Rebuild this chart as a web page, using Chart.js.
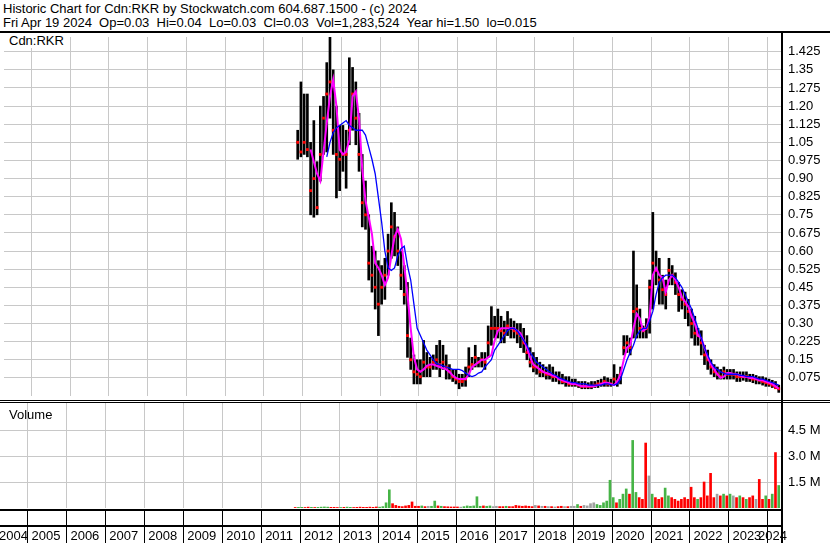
<!DOCTYPE html>
<html>
<head>
<meta charset="utf-8">
<script src="https://cdn.jsdelivr.net/npm/chart.js@4.4.1/dist/chart.umd.min.js"></script>
<style>
  body { margin: 0; background: #fff; width: 830px; height: 543px; overflow: hidden; position: relative;
         font-family: "Liberation Sans", Arial, sans-serif; }
  .txt { position: absolute; font-size: 13px; line-height: 13px; white-space: pre; color: #000; }
  .rule { position: absolute; background: #000; }
  canvas { position: absolute; left: 0; }
</style>
</head>
<body>
<div class="txt" style="left:3px;top:2px">Historic Chart for Cdn:RKR by Stockwatch.com 604.687.1500 - (c) 2024</div>
<div class="txt" style="left:3px;top:16px">Fri Apr 19 2024  Op=0.03  Hi=0.04  Lo=0.03  Cl=0.03  Vol=1,283,524  Year hi=1.50  lo=0.015</div>

<canvas id="price" width="830" height="367" style="top:33px"></canvas>
<canvas id="volume" width="830" height="140" style="top:403px"></canvas>

<div class="txt" style="left:0;top:33px;width:58px;height:15px;background:#fff;padding-left:9px;line-height:15px">Cdn:RKR</div>
<div class="txt" style="left:9px;top:408px">Volume</div>

<div class="rule" style="left:0;top:31px;width:830px;height:2px"></div>
<div class="rule" style="left:0;top:400px;width:830px;height:1px"></div>
<div class="rule" style="left:0;top:402px;width:830px;height:1px"></div>
<div class="rule" style="left:781px;top:31px;width:2px;height:512px"></div>

<script>
// monthly bars, first one is Nov 2011, last one Apr 2024
const firstMonth = { year: 2011, month: 11 };

const high = [
  1.10, 1.30,
  1.25, 1.25, 1.05, 1.14, 0.97, 1.20, 1.24, 1.38, 1.49, 1.35, 1.20, 1.12,
  1.12, 1.10, 1.40, 1.36, 1.30, 1.17, 1.00, 0.89, 0.75, 0.62, 0.60, 0.56,
  0.54, 0.57, 0.67, 0.80, 0.76, 0.70, 0.60, 0.54, 0.47, 0.24, 0.17, 0.15,
  0.15, 0.23, 0.18, 0.16, 0.17, 0.21, 0.23, 0.21, 0.17, 0.13, 0.11, 0.11,
  0.09, 0.09, 0.12, 0.20, 0.16, 0.21, 0.16, 0.18, 0.18, 0.29, 0.37, 0.33,
  0.36, 0.33, 0.31, 0.35, 0.32, 0.31, 0.30, 0.30, 0.28, 0.25, 0.20, 0.18,
  0.16, 0.14, 0.13, 0.12, 0.13, 0.12, 0.10, 0.10, 0.09, 0.08, 0.08, 0.07,
  0.07, 0.06, 0.06, 0.06, 0.055, 0.06, 0.06, 0.065, 0.07, 0.08, 0.075, 0.07,
  0.13, 0.09, 0.12, 0.25, 0.25, 0.24, 0.60, 0.46, 0.36, 0.29, 0.32, 0.48,
  0.76, 0.60, 0.57, 0.50, 0.48, 0.57, 0.54, 0.51, 0.47, 0.44, 0.43, 0.40,
  0.36, 0.33, 0.28, 0.27, 0.21, 0.19, 0.15, 0.13, 0.12, 0.11, 0.12, 0.11,
  0.11, 0.11, 0.10, 0.10, 0.10, 0.10, 0.09, 0.09, 0.085, 0.08, 0.08, 0.075,
  0.07, 0.065, 0.06, 0.045
];
const low = [
  0.98, 0.99,
  1.00, 0.99, 0.75, 0.74, 0.75, 0.89, 1.00, 1.01, 1.15, 1.00, 0.82, 0.85,
  0.93, 0.86, 1.04, 1.10, 1.04, 0.93, 0.70, 0.69, 0.48, 0.43, 0.36, 0.25,
  0.38, 0.40, 0.50, 0.57, 0.58, 0.54, 0.44, 0.38, 0.16, 0.11, 0.05, 0.05,
  0.05, 0.08, 0.08, 0.08, 0.11, 0.11, 0.08, 0.11, 0.07, 0.07, 0.06, 0.05,
  0.03, 0.04, 0.04, 0.08, 0.11, 0.12, 0.12, 0.12, 0.11, 0.16, 0.21, 0.24,
  0.24, 0.22, 0.22, 0.25, 0.24, 0.24, 0.22, 0.20, 0.18, 0.15, 0.12, 0.10,
  0.09, 0.08, 0.08, 0.07, 0.07, 0.06, 0.06, 0.05, 0.05, 0.04, 0.04, 0.04,
  0.04, 0.035, 0.03, 0.03, 0.03, 0.03, 0.035, 0.035, 0.04, 0.04, 0.04, 0.04,
  0.05, 0.04, 0.05, 0.17, 0.18, 0.17, 0.24, 0.24, 0.24, 0.24, 0.24, 0.26,
  0.36, 0.46, 0.38, 0.38, 0.36, 0.46, 0.46, 0.42, 0.35, 0.36, 0.32, 0.29,
  0.24, 0.21, 0.21, 0.17, 0.13, 0.11, 0.09, 0.08, 0.07, 0.07, 0.07, 0.07,
  0.07, 0.07, 0.06, 0.06, 0.065, 0.06, 0.06, 0.055, 0.05, 0.05, 0.045, 0.04,
  0.04, 0.035, 0.03, 0.015
];
const close = [
  1.05, 1.01,
  1.05, 1.02, 0.85, 0.90, 0.78, 1.00, 1.15, 1.25, 1.30, 1.10, 1.00, 0.98,
  1.00, 1.00, 1.10, 1.25, 1.15, 1.00, 0.80, 0.75, 0.55, 0.50, 0.45, 0.38,
  0.45, 0.50, 0.60, 0.70, 0.66, 0.60, 0.50, 0.42, 0.25, 0.15, 0.10, 0.09,
  0.08, 0.14, 0.12, 0.12, 0.14, 0.15, 0.13, 0.14, 0.12, 0.10, 0.08, 0.07,
  0.06, 0.06, 0.07, 0.12, 0.13, 0.16, 0.14, 0.15, 0.14, 0.22, 0.28, 0.28,
  0.28, 0.27, 0.26, 0.29, 0.28, 0.27, 0.26, 0.25, 0.22, 0.18, 0.14, 0.12,
  0.12, 0.10, 0.10, 0.09, 0.09, 0.08, 0.08, 0.07, 0.06, 0.06, 0.05, 0.05,
  0.05, 0.045, 0.04, 0.04, 0.04, 0.04, 0.045, 0.05, 0.05, 0.06, 0.05, 0.05,
  0.07, 0.06, 0.09, 0.20, 0.22, 0.20, 0.35, 0.36, 0.28, 0.27, 0.28, 0.45,
  0.55, 0.52, 0.48, 0.44, 0.42, 0.52, 0.50, 0.47, 0.42, 0.40, 0.38, 0.35,
  0.30, 0.26, 0.25, 0.22, 0.17, 0.15, 0.12, 0.10, 0.09, 0.08, 0.10, 0.09,
  0.09, 0.09, 0.08, 0.08, 0.08, 0.08, 0.075, 0.07, 0.07, 0.065, 0.06, 0.055,
  0.05, 0.045, 0.035, 0.03
];
// short moving average (magenta)
const maShort = [
  null, null,
  null, null, 1.02, 0.97, 0.92, 0.89, 1.01, 1.13, 1.24, 1.31, 1.20, 1.02,
  1.00, 1.01, 1.06, 1.24, 1.26, 1.15, 0.94, 0.81, 0.74, 0.67, 0.55, 0.53,
  0.50, 0.46, 0.49, 0.58, 0.66, 0.69, 0.65, 0.54, 0.42, 0.28, 0.16, 0.11,
  0.10, 0.11, 0.125, 0.13, 0.13, 0.125, 0.12, 0.115, 0.11, 0.10, 0.085, 0.075,
  0.07, 0.07, 0.07, 0.09, 0.12, 0.13, 0.14, 0.15, 0.15, 0.16, 0.17, 0.23,
  0.27, 0.28, 0.28, 0.28, 0.28, 0.28, 0.27, 0.26, 0.23, 0.20, 0.16, 0.13,
  0.12, 0.11, 0.10, 0.095, 0.09, 0.085, 0.08, 0.07, 0.065, 0.06, 0.055, 0.05,
  0.05, 0.045, 0.04, 0.04, 0.04, 0.04, 0.04, 0.045, 0.05, 0.055, 0.055, 0.05,
  0.045, 0.06, 0.09, 0.15, 0.20, 0.21, 0.28, 0.34, 0.32, 0.27, 0.28, 0.33,
  0.50, 0.53, 0.50, 0.49, 0.43, 0.48, 0.50, 0.48, 0.45, 0.41, 0.39, 0.37,
  0.33, 0.30, 0.25, 0.24, 0.20, 0.16, 0.13, 0.11, 0.09, 0.075, 0.08, 0.095,
  0.095, 0.09, 0.09, 0.085, 0.08, 0.08, 0.075, 0.075, 0.07, 0.065, 0.065, 0.06,
  0.055, 0.05, 0.04, 0.03
];
// long moving average (blue)
const maLong = [
  null, null,
  null, null, null, null, null, null, null, 0.99, 1.05, 1.09, 1.11, 1.12,
  1.13, 1.14, 1.12, 1.11, 1.10, 1.10, 1.10, 1.08, 1.03, 0.98, 0.92, 0.82,
  0.72, 0.60, 0.53, 0.52, 0.53, 0.58, 0.61, 0.62, 0.54, 0.48, 0.38, 0.28,
  0.25, 0.22, 0.19, 0.17, 0.15, 0.135, 0.13, 0.125, 0.12, 0.115, 0.11, 0.11,
  0.11, 0.105, 0.095, 0.085, 0.08, 0.085, 0.095, 0.10, 0.12, 0.135, 0.15, 0.19,
  0.21, 0.23, 0.25, 0.27, 0.28, 0.28, 0.27, 0.25, 0.23, 0.21, 0.18, 0.16,
  0.14, 0.13, 0.12, 0.11, 0.10, 0.09, 0.085, 0.075, 0.07, 0.065, 0.06, 0.055,
  0.055, 0.05, 0.05, 0.05, 0.045, 0.045, 0.045, 0.045, 0.045, 0.05, 0.05, 0.047,
  0.045, 0.05, 0.07, 0.11, 0.15, 0.18, 0.21, 0.25, 0.27, 0.28, 0.28, 0.31,
  0.35, 0.42, 0.47, 0.49, 0.50, 0.50, 0.50, 0.49, 0.47, 0.45, 0.42, 0.39,
  0.36, 0.32, 0.28, 0.24, 0.20, 0.17, 0.14, 0.12, 0.11, 0.10, 0.095, 0.09,
  0.09, 0.09, 0.09, 0.085, 0.085, 0.08, 0.08, 0.08, 0.075, 0.07, 0.07, 0.065,
  0.06, 0.055, 0.05, 0.045
];
// volume in millions of shares
const volume = [
  0.03, 0.04,
  0.04, 0.03, 0.05, 0.04, 0.03, 0.04, 0.05, 0.06, 0.05, 0.04, 0.04, 0.03,
  0.03, 0.04, 0.05, 0.04, 0.03, 0.04, 0.05, 0.04, 0.04, 0.05, 0.04, 0.06,
  0.05, 0.08, 0.30, 1.05, 0.25, 0.15, 0.10, 0.08, 0.12, 0.15, 0.35, 0.10,
  0.10, 0.12, 0.08, 0.10, 0.10, 0.40, 0.12, 0.10, 0.08, 0.07, 0.06, 0.06,
  0.06, 0.05, 0.08, 0.12, 0.10, 0.12, 0.65, 0.10, 0.12, 0.10, 0.12, 0.08,
  0.10, 0.08, 0.08, 0.10, 0.08, 0.08, 0.15, 0.12, 0.10, 0.12, 0.10, 0.08,
  0.15, 0.12, 0.10, 0.10, 0.08, 0.08, 0.06, 0.08, 0.10, 0.08, 0.08, 0.10,
  0.10, 0.20, 0.10, 0.15, 0.12, 0.25, 0.30, 0.20, 0.15, 0.30, 0.40, 1.60,
  0.60, 0.30, 0.50, 0.80, 1.10, 0.80, 3.90, 0.90, 0.60, 0.50, 3.75, 1.85,
  0.80, 0.60, 0.50, 0.60, 1.15, 0.70, 0.60, 0.50, 0.40, 0.50, 0.60, 0.50,
  1.20, 0.60, 0.50, 0.60, 1.50, 0.70, 2.00, 0.60, 0.80, 0.70, 0.80, 0.70,
  0.80, 0.70, 0.60, 0.70, 0.60, 0.50, 0.60, 0.70, 0.50, 1.65, 0.50, 0.70,
  0.50, 0.80, 3.20, 1.30
];
// u = up day colour, d = down, n = unchanged
const volumeDir = (
  'du' +
  'udduduuuuddd' + 'uduudddddddd' + 'uuuudddddddd' + 'dudnuududddd' +
  'dnuuuuuuduun' + 'nddudddddddd' + 'ndndndnddndn' + 'nudnnnnuuuuu' +
  'uduuuduudddn' + 'uddduudddddd' + 'ddudddddndud' + 'undududdnddu' +
  'dudu'
).split('');

const priceTicks = [0.075, 0.15, 0.225, 0.30, 0.375, 0.45, 0.525, 0.60, 0.675, 0.75,
                    0.825, 0.90, 0.975, 1.05, 1.125, 1.20, 1.275, 1.35, 1.425];
const priceTickLabels = ['0.075', '0.15', '0.225', '0.30', '0.375', '0.45', '0.525', '0.60', '0.675', '0.75',
                         '0.825', '0.90', '0.975', '1.05', '1.125', '1.20', '1.275', '1.35', '1.425'];
const volumeTicks = [1.5, 3.0, 4.5];
const volumeTickLabels = ['1.5 M', '3.0 M', '4.5 M'];
const yearBounds = [2005, 2006, 2007, 2008, 2009, 2010, 2011, 2012, 2013, 2014,
                    2015, 2016, 2017, 2018, 2019, 2020, 2021, 2022, 2023, 2024];
const yearLabels = ['2004', '2005', '2006', '2007', '2008', '2009', '2010', '2011', '2012', '2013', '2014',
                    '2015', '2016', '2017', '2018', '2019', '2020', '2021', '2022', '2023', '2024'];

const X_MIN = 2004.294;
const X_MAX = 2024.35;
const GRID = '#c8c8c8';
const FONT = '"Liberation Sans", Arial, sans-serif';

Chart.defaults.font.family = FONT;
Chart.defaults.font.size = 13;
Chart.defaults.color = '#000';

const monthX = high.map((_, i) => firstMonth.year + (firstMonth.month - 1 + i + 0.5) / 12);

function xScale() {
  return {
    type: 'linear',
    min: X_MIN,
    max: X_MAX,
    offset: false,
    afterBuildTicks: s => { s.ticks = yearBounds.map(v => ({ value: v })); },
    afterFit: s => { s.height = 0; s.paddingLeft = 0; s.paddingRight = 0; },
    ticks: { display: false },
    grid: { color: GRID, drawTicks: false, offset: false },
    border: { display: false }
  };
}

function yScale(max, ticks, labels) {
  return {
    position: 'right',
    min: 0,
    max: max,
    afterBuildTicks: s => { s.ticks = ticks.map(v => ({ value: v })); },
    afterFit: s => { s.width = 49; s.paddingTop = 0; s.paddingBottom = 0; },
    ticks: { padding: 7, callback: (v, i) => labels[i] },
    grid: { color: GRID, drawTicks: false },
    border: { display: false }
  };
}

const common = {
  responsive: false,
  animation: false,
  events: [],
  devicePixelRatio: 1,
  plugins: { legend: { display: false }, tooltip: { enabled: false } }
};

new Chart(document.getElementById('price'), {
  type: 'bar',
  data: {
    datasets: [
      {
        label: 'MA long',
        type: 'line',
        data: monthX.map((x, i) => ({ x, y: maLong[i] })),
        borderColor: '#0000ff',
        borderWidth: 1.3,
        pointRadius: 0,
        order: 1
      },
      {
        label: 'MA short',
        type: 'line',
        data: monthX.map((x, i) => ({ x, y: maShort[i] })),
        borderColor: '#ff00ff',
        borderWidth: 2,
        pointRadius: 0,
        order: 2
      },
      {
        label: 'Close',
        type: 'line',
        data: monthX.map((x, i) => ({ x, y: close[i] })),
        showLine: false,
        pointStyle: 'rect',
        pointRadius: 2,
        pointBorderWidth: 0,
        pointBackgroundColor: '#ff0000',
        order: 3
      },
      {
        label: 'Range',
        data: monthX.map((x, i) => ({ x, y: [low[i], high[i]] })),
        backgroundColor: '#000',
        barThickness: 2,
        order: 4
      }
    ]
  },
  options: {
    ...common,
    layout: { padding: 0 },
    scales: { x: xScale(), y: yScale(1.486, priceTicks, priceTickLabels) }
  }
});

// separator band and year row under the volume panel
const yearRow = {
  id: 'yearRow',
  afterDraw(chart) {
    const { ctx, chartArea } = chart;
    const xs = chart.scales.x;
    const base = chartArea.bottom;
    ctx.save();
    ctx.fillStyle = '#000';
    ctx.fillRect(0, base + 1, chartArea.right, 2);
    ctx.fillRect(0, base + 17, chartArea.right, 2);
    yearBounds.forEach(y => {
      ctx.fillRect(Math.round(xs.getPixelForValue(y)), base + 3, 1, 40);
    });
    ctx.font = '13px ' + FONT;
    ctx.textBaseline = 'alphabetic';
    ctx.textAlign = 'left';
    yearLabels.forEach(lab => {
      const w = ctx.measureText(lab).width;
      let x = xs.getPixelForValue(Number(lab)) + 4;
      x = Math.max(-1, Math.min(x, chartArea.right + 6 - w));
      ctx.fillText(lab, x, base + 32);
    });
    ctx.restore();
  }
};

new Chart(document.getElementById('volume'), {
  type: 'bar',
  data: {
    datasets: [{
      label: 'Volume',
      data: monthX.map((x, i) => ({ x, y: volume[i] })),
      backgroundColor: volumeDir.map(d => d === 'u' ? '#46b446' : d === 'd' ? '#ff0000' : '#a0a0a0'),
      barThickness: 2
    }]
  },
  options: {
    ...common,
    layout: { padding: { bottom: 35 } },
    scales: { x: xScale(), y: yScale(6.06, volumeTicks, volumeTickLabels) }
  },
  plugins: [yearRow]
});
</script>
</body>
</html>
